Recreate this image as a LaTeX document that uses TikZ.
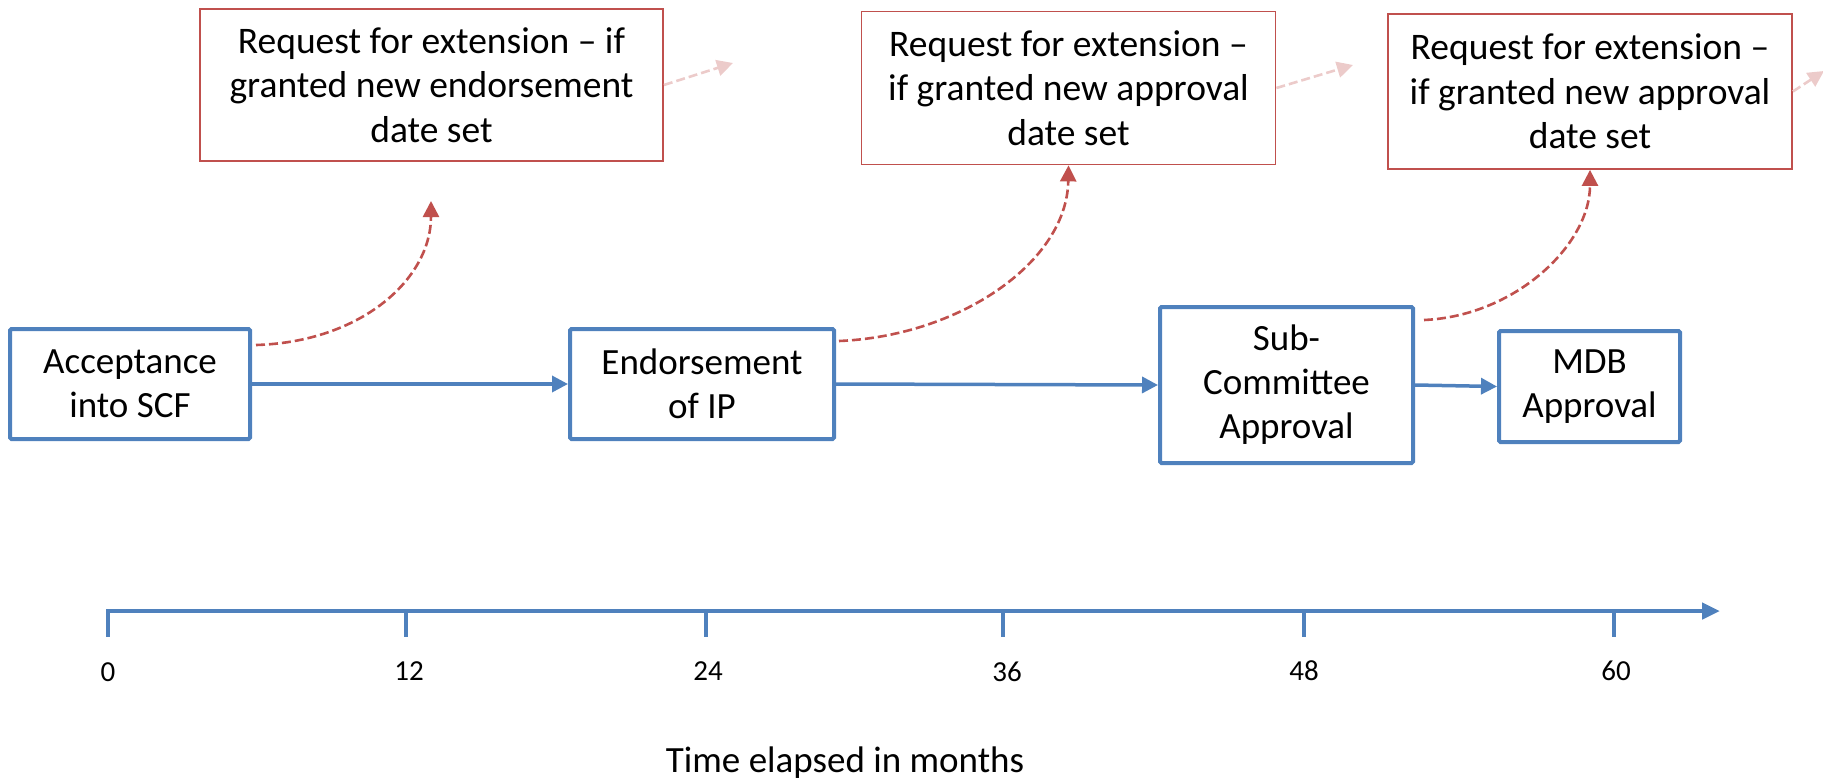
\documentclass[tikz,border=0pt]{standalone}
\usepackage{fontspec}
\setmainfont{Carlito}
\usetikzlibrary{arrows.meta}
\definecolor{boxblue}{HTML}{4F81BD}
\definecolor{boxred}{HTML}{C0504D}
\begin{document}
\begin{tikzpicture}[x=1pt,y=-1pt,
  redbox/.style={draw=boxred,line width=1.8pt,inner sep=0pt,align=center,font=\fontsize{37.5}{44.5}\selectfont},
  bluebox/.style={draw=boxblue,line width=4pt,rounded corners=1.5pt,inner sep=0pt,align=center,font=\fontsize{37}{44}\selectfont},
  flowarrow/.style={draw=boxblue,line width=3.5pt,-{Triangle[length=16pt,width=16pt]}},
  dcurve/.style={draw=boxred,line width=2.6pt,dash pattern=on 9pt off 4pt,-{Triangle[length=16pt,width=16pt]}},
  faded/.style={draw=boxred!30,line width=2.6pt,dash pattern=on 9pt off 4pt,-{Triangle[length=16pt,width=16pt]}},
  ticklbl/.style={font=\fontsize{29}{34}\selectfont,inner sep=0pt},
  tick/.style={draw=boxblue,line width=4.5pt}
]
\useasboundingbox (0,0) rectangle (1823,782);

% red request boxes
\node[redbox,minimum width=463pt,minimum height=152pt] (r1) at (431.5,85)
  {Request for extension -- if\\granted new endorsement\\date set};
\node[redbox,minimum width=414pt,minimum height=153pt] (r2) at (1068.5,88)
  {Request for extension --\\if granted new approval\\date set};
\node[redbox,minimum width=404pt,minimum height=155pt] (r3) at (1590,91.5)
  {Request for extension --\\if granted new approval\\date set};

% blue stage boxes
\node[bluebox,minimum width=240pt,minimum height=110pt] (A) at (130,384) {Acceptance\\into SCF};
\node[bluebox,minimum width=264pt,minimum height=110pt] (B) at (702,384) {Endorsement\\of IP};
\node[bluebox,minimum width=253pt,minimum height=156pt] (C) at (1286.5,385) {Sub-\\Committee\\Approval};
\node[bluebox,minimum width=181pt,minimum height=111pt] (D) at (1589.5,386.5) {MDB\\Approval};

% flow arrows
\draw[flowarrow] (A) -- (B);
\draw[flowarrow] (B.east) -- (C.west);
\draw[flowarrow] (C.east) -- (D.west);

% dashed curved arrows
\coordinate (c1s) at (256,345);
\coordinate (c1e) at (431,201);
\coordinate (c2s) at (839,341);
\coordinate (c3s) at (1424,320);
\draw[dcurve] (c1s) .. controls (360,342) and (431,280) .. (c1e);
\draw[dcurve] (c2s) .. controls (960,336) and (1067,262) .. (r2.south);
\draw[dcurve] (c3s) .. controls (1515,316) and (1590,245) .. (r3.south);

% faded arrows
\coordinate (f1) at (733,63);
\coordinate (f2) at (1353,65);
\coordinate (f3) at (1824,71);
\draw[faded] (r1.east) -- (f1);
\draw[faded] (r2.east) -- (f2);
\draw[faded] (r3.east) -- (f3);

% timeline
\coordinate (t0) at (108,611);
\coordinate (tend) at (1720,611);
\draw[draw=boxblue,line width=4.5pt,-{Triangle[length=18pt,width=16pt]}] (106,611) -- (tend);
\foreach \x in {108,406,706,1003,1304,1614} {
  \draw[tick] (\x,609) -- (\x,637);
}
\node[ticklbl] (l0) at (108,672) {0};
\node[ticklbl] (l12) at (409,671) {12};
\node[ticklbl] (l24) at (708,671) {24};
\node[ticklbl] (l36) at (1007,672) {36};
\node[ticklbl] (l48) at (1304,671) {48};
\node[ticklbl] (l60) at (1616,671) {60};

\node[font=\fontsize{37}{44}\selectfont,inner sep=0pt] (title) at (845,763) {Time elapsed in months};
\end{tikzpicture}
\end{document}
